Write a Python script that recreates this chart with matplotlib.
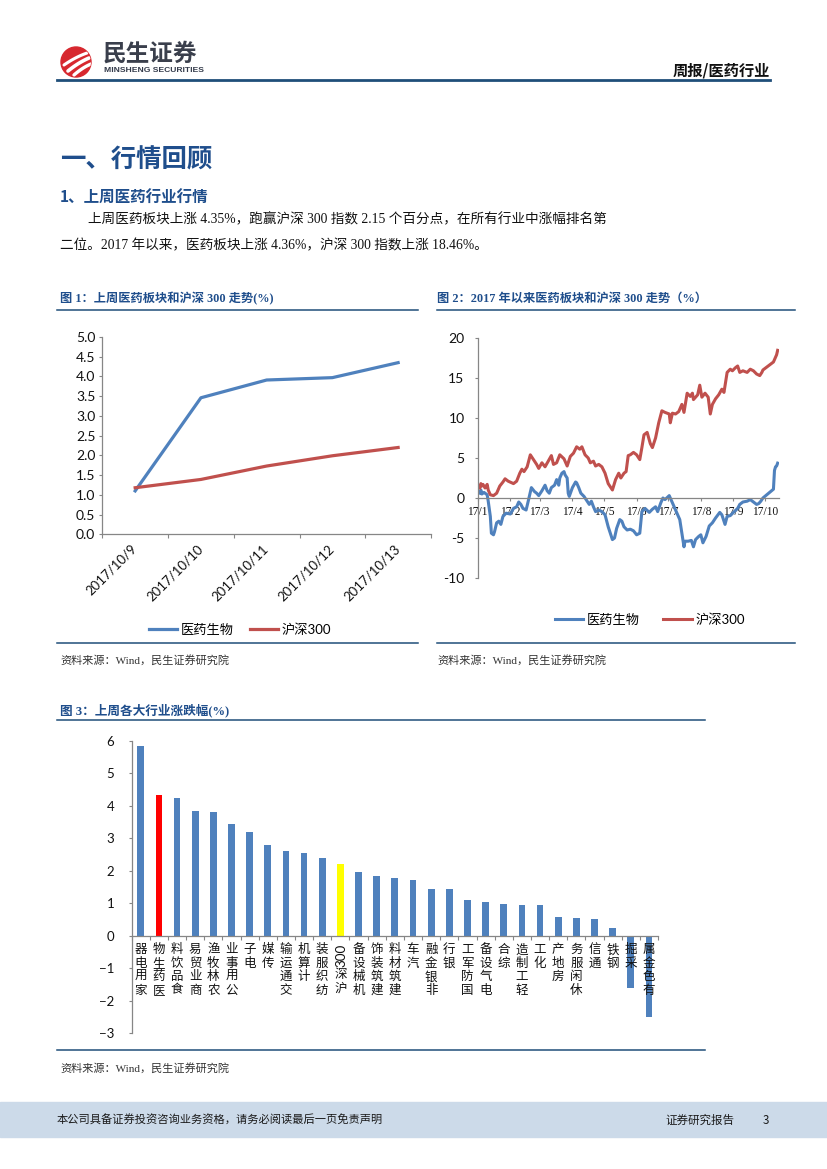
import matplotlib
matplotlib.use('Agg')
import matplotlib.pyplot as plt
from matplotlib.patches import Circle, Rectangle
from matplotlib.lines import Line2D
import numpy as np
import datetime as dt

plt.rcParams['font.family'] = ['Noto Sans CJK SC', 'DejaVu Sans']
plt.rcParams['axes.unicode_minus'] = False

# ---------------- data ----------------
week_dates = ['2017/10/9', '2017/10/10', '2017/10/11', '2017/10/12', '2017/10/13']
week_yiyao = [1.10, 3.46, 3.91, 3.97, 4.35]
week_hs300 = [1.18, 1.39, 1.73, 1.99, 2.20]

ytd_hs300_dates = ['01-03', '01-04', '01-05', '01-06', '01-08', '01-10', '01-11', '01-13', '01-16', '01-19',
                   '01-22', '01-25', '01-27', '01-30', '02-04', '02-07', '02-10', '02-12', '02-14', '02-17',
                   '02-20', '02-23', '02-26', '02-28', '03-03', '03-06', '03-09', '03-12', '03-14', '03-17',
                   '03-20', '03-24', '03-27', '03-30', '04-02', '04-05', '04-08', '04-10', '04-13', '04-16',
                   '04-18', '04-21', '04-23', '04-26', '04-29', '05-02', '05-05', '05-09', '05-12', '05-15',
                   '05-17', '05-20', '05-22', '05-24', '05-26', '05-29', '06-01', '06-04', '06-06', '06-08',
                   '06-11', '06-14', '06-16', '06-19', '06-22', '06-25', '06-28', '07-02', '07-03', '07-05',
                   '07-08', '07-11', '07-14', '07-16', '07-19', '07-22', '07-24', '07-25', '07-29', '07-31',
                   '08-02', '08-05', '08-08', '08-10', '08-12', '08-15', '08-18', '08-21', '08-23', '08-26',
                   '08-29', '08-31', '09-03', '09-05', '09-07', '09-10', '09-14', '09-17', '09-20', '09-23',
                   '09-26', '09-28', '09-29', '10-09', '10-10', '10-11', '10-12', '10-13']
ytd_hs300 = [1.25, 1.8, 1.5, 1.7, 1.25, 1.7, 1.0, 0.4, 0.3, 0.6,
             1.5, 2.0, 2.4, 2.1, 1.8, 2.1, 3.1, 3.6, 3.3, 3.9,
             5.4, 4.8, 4.2, 3.7, 4.4, 3.9, 4.6, 5.3, 4.2, 4.4,
             5.4, 4.9, 4.0, 5.2, 5.6, 6.4, 6.1, 6.4, 5.4, 5.0,
             4.4, 4.6, 4.0, 4.2, 3.9, 3.1, 1.8, 1.0, 2.3, 3.1,
             2.5, 3.1, 3.3, 5.3, 5.4, 5.7, 5.4, 4.8, 6.3, 7.9,
             8.2, 6.8, 6.3, 7.5, 9.4, 10.9, 10.7, 10.5, 9.4, 10.6,
             10.5, 10.8, 11.7, 10.7, 13.1, 12.7, 13.1, 12.3, 12.9, 14.1,
             12.6, 13.1, 12.6, 10.5, 11.7, 12.4, 12.9, 13.6, 13.2, 15.7,
             16.1, 15.9, 16.3, 16.5, 15.7, 15.9, 15.7, 16.1, 15.9, 15.5,
             15.3, 15.7, 16.0, 17.0, 17.3, 17.6, 17.9, 18.46]

ytd_yiyao_dates = ['01-03', '01-04', '01-05', '01-07', '01-10', '01-11', '01-13', '01-14', '01-16', '01-17',
                   '01-19', '01-21', '01-23', '01-25', '01-28', '02-01', '02-04', '02-07', '02-09', '02-11',
                   '02-13', '02-16', '02-18', '02-21', '02-24', '02-26', '02-28', '03-03', '03-06', '03-08',
                   '03-10', '03-12', '03-15', '03-17', '03-19', '03-20', '03-22', '03-24', '03-25', '03-27',
                   '03-28', '03-29', '04-01', '04-04', '04-05', '04-07', '04-09', '04-12', '04-15', '04-17',
                   '04-19', '04-21', '04-23', '04-26', '04-29', '05-02', '05-05', '05-09', '05-11', '05-13',
                   '05-16', '05-18', '05-20', '05-23', '05-26', '05-29', '06-01', '06-04', '06-06', '06-09',
                   '06-13', '06-16', '06-19', '06-21', '06-24', '06-26', '06-28', '07-02', '07-05', '07-08',
                   '07-12', '07-14', '07-16', '07-17', '07-20', '07-23', '07-25', '07-27', '07-30', '08-01',
                   '08-03', '08-06', '08-09', '08-12', '08-15', '08-19', '08-21', '08-24', '08-26', '08-29',
                   '09-01', '09-05', '09-07', '09-10', '09-14', '09-17', '09-20', '09-23', '09-25', '09-27',
                   '09-29', '10-09', '10-10', '10-11', '10-12', '10-13']
ytd_yiyao = [0.6, 1.0, 0.5, 0.7, 0.4, -0.4, -2.3, -4.4, -4.6, -4.2,
             -3.1, -2.9, -3.3, -2.3, -1.9, -2.0, -1.3, -1.1, -0.5, -0.8,
             -1.3, -1.5, -0.4, 1.3, 0.8, 0.6, 0.3, 0.9, 1.6, 0.9,
             0.6, 1.3, 1.6, 2.3, 1.6, 2.5, 3.1, 3.3, 2.9, 2.5,
             0.6, 0.2, 1.3, 2.0, 1.9, 1.3, 0.6, 0.2, -0.4, -0.8,
             -0.4, -1.1, -1.7, -1.5, -1.7, -2.1, -3.6, -5.2, -5.0, -3.8,
             -2.7, -2.9, -3.6, -4.0, -3.9, -4.1, -4.6, -4.4, -1.7, -1.3,
             -1.8, -1.4, -1.1, -1.7, -0.6, 0.0, -0.2, 0.3, -0.6, -1.5,
             -2.7, -4.4, -6.1, -5.4, -5.4, -5.3, -6.1, -5.2, -4.8, -4.6,
             -5.6, -4.8, -3.5, -3.1, -2.5, -1.8, -2.1, -3.3, -2.3, -2.2,
             -1.8, -1.3, -0.8, -0.5, -0.4, -0.2, -0.5, -0.8, -0.7, -0.4,
             0.0, 1.1, 3.45, 3.9, 4.0, 4.36]

month_ticks = ['17/1', '17/2', '17/3', '17/4', '17/5', '17/6', '17/7', '17/8', '17/9', '17/10']

industries = ['家用电器', '医药生物', '食品饮料', '商业贸易', '农林牧渔', '公用事业', '电子', '传媒',
              '交通运输', '计算机', '纺织服装', '沪深300', '机械设备', '建筑装饰', '建筑材料', '汽车',
              '非银金融', '银行', '国防军工', '电气设备', '综合', '轻工制造', '化工', '房地产',
              '休闲服务', '通信', '钢铁', '采掘', '有色金属']
industry_chg = [5.85, 4.35, 4.23, 3.84, 3.82, 3.45, 3.18, 2.78, 2.60, 2.55, 2.40, 2.20, 1.95, 1.85,
                1.78, 1.73, 1.44, 1.43, 1.09, 1.04, 0.97, 0.94, 0.93, 0.59, 0.55, 0.50, 0.23, -1.60, -2.51]

# ---------------- layout helpers ----------------
W, H = 827, 1169
fig = plt.figure(figsize=(8.27, 11.69), dpi=100)


def fx(x):
    return x / W


def fy(y):
    return 1 - y / H


CJK = 'Noto Sans CJK SC'
SERIF = ['Liberation Serif', CJK]
NUM = ['Lato', CJK]
NAVY = '#1F4E8C'
RULE = '#1F4E79'
GRAY = '#868686'
BLUE = '#4F81BD'
RED = '#C0504D'


def hline(y, x0, x1, lw=1.1, color=RULE):
    fig.add_artist(Line2D([fx(x0), fx(x1)], [fy(y), fy(y)], transform=fig.transFigure,
                          color=color, lw=lw))


def ftext(x, y, s, **kw):
    kw.setdefault('va', 'center')
    fig.text(fx(x), fy(y), s, **kw)


# ---------------- header ----------------
axl = fig.add_axes([fx(60), fy(78), 32 / W, 32 / H])
axl.set_xlim(0, 32)
axl.set_ylim(0, 32)
axl.set_aspect('equal')
axl.axis('off')
circ = Circle((16, 16), 15, color='#D7282F')
axl.add_patch(circ)
t = np.linspace(0, 1, 30)
for k, (sx, sy, ex, ey, w) in enumerate([(4, 13, 27, 25, 2.2), (8, 7, 29, 20, 2.6), (14, 3, 31, 14, 2.4)]):
    xs = sx + (ex - sx) * t
    ys = sy + (ey - sy) * t + 4 * t * (1 - t)
    ln = axl.plot(xs, ys, color='white', lw=w, solid_capstyle='round')[0]
    ln.set_clip_path(circ)

ftext(103, 54, '民生证券', fontsize=17, fontweight='bold', color='#3a3f4c', family=CJK)
ftext(104, 70.5, 'MINSHENG SECURITIES', fontsize=6.1, fontweight='bold', color='#333a4a',
      family=['Liberation Sans Narrow', 'Liberation Sans'])
ftext(770, 70, '周报/医药行业', fontsize=11, fontweight='bold', ha='right', color='#111111', family=CJK)
hline(79.5, 57, 770, lw=2.0, color=RULE)

# ---------------- section text ----------------
ftext(60, 160, '一、行情回顾', fontsize=18.3, fontweight='bold', color=NAVY, family=CJK)
ftext(60, 197, '1、上周医药行业行情', fontsize=11.2, fontweight='bold', color=NAVY, family=CJK)
ftext(88, 220, '上周医药板块上涨 4.35%，跑赢沪深 300 指数 2.15 个百分点，在所有行业中涨幅排名第',
      fontsize=9.8, color='#111111', family=SERIF)
ftext(60, 246, '二位。2017 年以来，医药板块上涨 4.36%，沪深 300 指数上涨 18.46%。',
      fontsize=9.8, color='#111111', family=SERIF)

# ---------------- figure titles / rules ----------------
ftext(60, 299, '图 1：上周医药板块和沪深 300 走势(%)', fontsize=8.8, fontweight='bold', color=NAVY, family=SERIF)
ftext(437, 299, '图 2：2017 年以来医药板块和沪深 300 走势（%）', fontsize=8.8, fontweight='bold', color=NAVY,
      family=SERIF)
hline(310, 57, 418)
hline(310, 437, 795)
hline(643, 57, 418)
hline(643, 437, 795)
ftext(60, 660, '资料来源：Wind，民生证券研究院', fontsize=8, color='#333333', family=SERIF)
ftext(437, 660, '资料来源：Wind，民生证券研究院', fontsize=8, color='#333333', family=SERIF)

ftext(60, 710, '图 3：上周各大行业涨跌幅(%)', fontsize=9.1, fontweight='bold', color=NAVY, family=SERIF)
hline(720, 57, 705)
hline(1050, 57, 705)
ftext(60, 1068, '资料来源：Wind，民生证券研究院', fontsize=8, color='#333333', family=SERIF)


def style_axis(ax):
    for s in ['top', 'right']:
        ax.spines[s].set_visible(False)
    for s in ['left', 'bottom']:
        ax.spines[s].set_color(GRAY)
        ax.spines[s].set_linewidth(0.9)
    ax.tick_params(colors=GRAY, labelcolor='#111111')
    ax.patch.set_alpha(0)


# ---------------- figure 1 ----------------
ax1 = fig.add_axes([fx(102.3), fy(534.3), (431 - 102.3) / W, (534.3 - 337) / H])
style_axis(ax1)
xi = np.arange(len(week_dates))
ax1.plot(xi, week_yiyao, color=BLUE, lw=2.3, label='医药生物')
ax1.plot(xi, week_hs300, color=RED, lw=2.3, label='沪深300')
ax1.set_xlim(-0.5, len(week_dates) - 0.5)
ax1.set_ylim(0, 5)
ax1.set_yticks(np.arange(0, 5.01, 0.5))
ax1.set_yticklabels(['%.1f' % v for v in np.arange(0, 5.01, 0.5)], fontsize=10, family=NUM)
ax1.tick_params(axis='y', length=2.5, width=0.8, pad=2.5, direction='out')
ax1.set_xticks(xi)
ax1.set_xticklabels(week_dates, rotation=45, ha='right', va='center', rotation_mode='anchor',
                    fontsize=9.5, family=NUM)
ax1.tick_params(axis='x', which='major', length=0, pad=9)
ax1.set_xticks(np.arange(-0.5, len(week_dates), 1.0), minor=True)
ax1.tick_params(axis='x', which='minor', length=3, width=0.8, direction='out', colors=GRAY)
ax1.legend(loc='center', bbox_to_anchor=(fx(240), fy(629.5)), bbox_transform=fig.transFigure, ncol=2,
           frameon=False, handlelength=2.15, handletextpad=0.3, columnspacing=1.2,
           prop={'family': NUM, 'size': 9.5})

# ---------------- figure 2 ----------------
d0 = dt.date(2017, 1, 1)
ax2 = fig.add_axes([fx(477.7), fy(578), (778.7 - 477.7) / W, (578 - 338) / H])
style_axis(ax2)
hs_x = [dt.date(2017, int(s[:2]), int(s[3:])) for s in ytd_hs300_dates]
yy_x = [dt.date(2017, int(s[:2]), int(s[3:])) for s in ytd_yiyao_dates]
ax2.plot(yy_x, ytd_yiyao, color=BLUE, lw=2.2, label='医药生物')
ax2.plot(hs_x, ytd_hs300, color=RED, lw=2.2, label='沪深300')
ax2.set_xlim(d0, d0 + dt.timedelta(days=286))
ax2.set_ylim(-10, 20)
ax2.spines['bottom'].set_position(('data', 0))
ax2.set_yticks(range(-10, 21, 5))
ax2.set_yticklabels([str(v) for v in range(-10, 21, 5)], fontsize=10, family=NUM)
ax2.tick_params(axis='y', length=2.5, width=0.8, pad=7, direction='out')
mt = [dt.date(2017, m, 1) for m in range(1, 11)]
ax2.set_xticks(mt)
ax2.set_xticklabels(month_ticks, fontsize=8.3, family=SERIF)
ax2.tick_params(axis='x', length=2.5, width=0.8, pad=3, direction='out')
ax2.legend(loc='center', bbox_to_anchor=(fx(650), fy(619.5)), bbox_transform=fig.transFigure, ncol=2,
           frameon=False, handlelength=2.15, handletextpad=0.3, columnspacing=1.75,
           prop={'family': NUM, 'size': 9.5})

# ---------------- figure 3 ----------------
ax3 = fig.add_axes([fx(131.7), fy(1033), (658 - 131.7) / W, (1033 - 741) / H])
style_axis(ax3)
bx = np.arange(len(industries))
colors = ['#FF0000' if n == '医药生物' else ('#FFFF00' if n == '沪深300' else BLUE) for n in industries]
ax3.bar(bx, industry_chg, width=0.37, color=colors, zorder=2)
ax3.set_xlim(-0.5, len(industries) - 0.5)
ax3.set_ylim(-3, 6)
ax3.spines['bottom'].set_position(('data', 0))
ax3.set_yticks(range(-3, 7))
ax3.set_yticklabels([str(v).replace('-', '−') for v in range(-3, 7)], fontsize=9.5, family=NUM)
ax3.tick_params(axis='y', length=2.5, width=0.8, pad=10, direction='out')
ax3.set_xticks([])
ax3.set_xticks(np.arange(-0.5, len(industries), 1.0), minor=True)
ax3.tick_params(axis='x', which='minor', length=3, width=0.8, direction='out', colors=GRAY)

FS = 9.0
STEP = 9.7
for i, name in enumerate(industries):
    tokens = []
    j = 0
    while j < len(name):
        if name[j].isdigit():
            k = j
            while k < len(name) and name[k].isdigit():
                k += 1
            tokens.append(name[j:k])
            j = k
        else:
            tokens.append(name[j])
            j += 1
    off = 5.5
    for tok in reversed(tokens):
        if tok.isdigit():
            ax3.annotate(tok, xy=(i, 0), xytext=(1, -off), textcoords='offset points', ha='center',
                         va='top', rotation=90, fontsize=FS + 0.7, family=NUM, color='#111111', zorder=3)
            off += len(tok) * 0.56 * (FS + 0.7) + 1.5
        else:
            ax3.annotate(tok, xy=(i, 0), xytext=(0, -off), textcoords='offset points', ha='center',
                         va='top', fontsize=FS, family=CJK, color='#111111', zorder=3)
            off += STEP

# ---------------- footer ----------------
fig.add_artist(Rectangle((0, fy(1137)), 1, (1137 - 1102) / H, transform=fig.transFigure,
                         color='#CCDAE9', zorder=0))
ftext(57, 1120, '本公司具备证券投资咨询业务资格，请务必阅读最后一页免责声明', fontsize=8.1, color='#1a1a1a', family=CJK)
ftext(665, 1120, '证券研究报告', fontsize=8.3, color='#1a1a1a', family=CJK)
ftext(763, 1120, '3', fontsize=8.3, color='#1a1a1a', family=CJK)

fig.savefig('out.png', dpi=100)
